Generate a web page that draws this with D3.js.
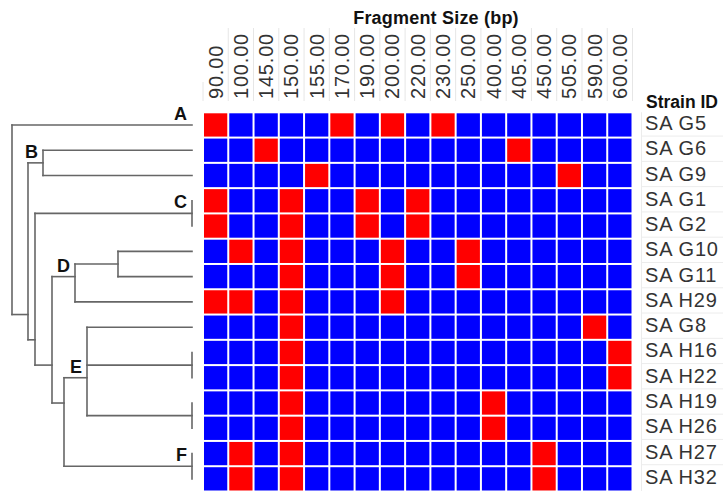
<!DOCTYPE html>
<html>
<head>
<meta charset="utf-8">
<script src="https://cdn.jsdelivr.net/npm/d3@7"></script>
<style>
  body { margin: 0; background: #fff; }
  svg { display: block; font-family: "Liberation Sans", Arial, sans-serif; }
</style>
</head>
<body>
<div id="chart"></div>
<script>
var WIDTH = 723, HEIGHT = 491;

// fragment sizes (columns)
var sizes = ["90.00", "100.00", "145.00", "150.00", "155.00", "170.00", "190.00", "200.00",
             "220.00", "230.00", "250.00", "400.00", "405.00", "450.00", "505.00", "590.00", "600.00"];

// strains (rows, in dendrogram order)
var strains = ["SA G5", "SA G6", "SA G9", "SA G1", "SA G2", "SA G10", "SA G11", "SA H29",
               "SA G8", "SA H16", "SA H22", "SA H19", "SA H26", "SA H27", "SA H32"];

// 1 = fragment present (red), 0 = absent (blue)
var presence = [
  [1,0,0,0,0,1,0,1,0,1,0,0,0,0,0,0,0],
  [0,0,1,0,0,0,0,0,0,0,0,0,1,0,0,0,0],
  [0,0,0,0,1,0,0,0,0,0,0,0,0,0,1,0,0],
  [1,0,0,1,0,0,1,0,1,0,0,0,0,0,0,0,0],
  [1,0,0,1,0,0,1,0,1,0,0,0,0,0,0,0,0],
  [0,1,0,1,0,0,0,1,0,0,1,0,0,0,0,0,0],
  [0,0,0,1,0,0,0,1,0,0,1,0,0,0,0,0,0],
  [1,1,0,1,0,0,0,1,0,0,0,0,0,0,0,0,0],
  [0,0,0,1,0,0,0,0,0,0,0,0,0,0,0,1,0],
  [0,0,0,1,0,0,0,0,0,0,0,0,0,0,0,0,1],
  [0,0,0,1,0,0,0,0,0,0,0,0,0,0,0,0,1],
  [0,0,0,1,0,0,0,0,0,0,0,1,0,0,0,0,0],
  [0,0,0,1,0,0,0,0,0,0,0,1,0,0,0,0,0],
  [0,1,0,1,0,0,0,0,0,0,0,0,0,1,0,0,0],
  [0,1,0,1,0,0,0,0,0,0,0,0,0,1,0,0,0]
];

// dendrogram: [node, parent, merge height]
var treeNodes = [
  ["root", "",     18.0],
  ["n1",   "root", 16.4],
  ["B",    "n1",   14.9],
  ["n2",   "n1",   15.7],
  ["C",    "n2",   0],
  ["n3",   "n2",   14.0],
  ["D",    "n3",   11.7],
  ["n5",   "D",    7.4],
  ["n4",   "n3",   12.8],
  ["E",    "n4",   10.5],
  ["p1",   "E",    0],
  ["p2",   "E",    0],
  ["F",    "n4",   0],
  ["SA G5",  "root", 0],
  ["SA G6",  "B",  0],
  ["SA G9",  "B",  0],
  ["SA G1",  "C",  0],
  ["SA G2",  "C",  0],
  ["SA G10", "n5", 0],
  ["SA G11", "n5", 0],
  ["SA H29", "D",  0],
  ["SA G8",  "E",  0],
  ["SA H16", "p1", 0],
  ["SA H22", "p1", 0],
  ["SA H19", "p2", 0],
  ["SA H26", "p2", 0],
  ["SA H27", "F",  0],
  ["SA H32", "F",  0]
];

// cluster letters and the node they sit on
var clusterLabels = [["A", "SA G5"], ["B", "B"], ["C", "C"], ["D", "D"], ["E", "E"], ["F", "F"]];

var svg = d3.select("#chart").append("svg")
  .attr("width", WIDTH).attr("height", HEIGHT);

var x = d3.scaleBand().domain(sizes).range([203, 632.5]);
var y = d3.scaleBand().domain(strains).range([112.3, 491.5]);
var hx = d3.scaleLinear().domain([0, 18]).range([192, 12]);

var gap = 2;

// faint table borders behind labels
svg.append("g").selectAll("line")
  .data(d3.range(sizes.length + 1))
  .enter().append("line")
  .attr("x1", function(i){ return 203 + i * x.step(); })
  .attr("x2", function(i){ return 203 + i * x.step(); })
  .attr("y1", function(i){ return i == 0 ? 82 : 28; })
  .attr("y2", 101)
  .attr("stroke", "#e6e6e6").attr("stroke-width", 1);

svg.append("line")
  .attr("x1", 641.5).attr("x2", 641.5)
  .attr("y1", y.range()[0]).attr("y2", HEIGHT)
  .attr("stroke", "#ececec");

svg.append("g").selectAll("line")
  .data(strains.slice(1))
  .enter().append("line")
  .attr("x1", 641.5).attr("x2", WIDTH)
  .attr("y1", function(d){ return y(d) - 1.5; })
  .attr("y2", function(d){ return y(d) - 1.5; })
  .attr("stroke", "#ececec");

// heatmap cells
var cells = [];
presence.forEach(function(row, r){
  row.forEach(function(v, c){
    cells.push({strain: strains[r], size: sizes[c], value: v});
  });
});

svg.append("g").selectAll("rect")
  .data(cells)
  .enter().append("rect")
  .attr("x", function(d){ return x(d.size) + gap / 2; })
  .attr("y", function(d){ return y(d.strain) + gap / 2; })
  .attr("width", x.step() - gap)
  .attr("height", y.step() - gap)
  .attr("fill", function(d){ return d.value ? "#ff0000" : "#0000ff"; });

// column labels
svg.append("g").selectAll("text")
  .data(sizes)
  .enter().append("text")
  .attr("transform", function(d){
    return "translate(" + (x(d) + x.bandwidth() / 2 + 7) + ",99) rotate(-90)";
  })
  .attr("font-size", 20)
  .attr("letter-spacing", 0.8)
  .attr("fill", "#333")
  .text(function(d){ return d; });

svg.append("text")
  .attr("x", 436).attr("y", 24)
  .attr("text-anchor", "middle")
  .attr("font-size", 18).attr("font-weight", "bold")
  .attr("letter-spacing", 0.2)
  .attr("fill", "#111")
  .text("Fragment Size (bp)");

// row labels
svg.append("text")
  .attr("x", 646).attr("y", 108)
  .attr("font-size", 17.5).attr("font-weight", "bold")
  .attr("fill", "#111")
  .text("Strain ID");

svg.append("g").selectAll("text")
  .data(strains)
  .enter().append("text")
  .attr("x", 645)
  .attr("y", function(d){ return y(d) + y.bandwidth() / 2 + 5; })
  .attr("font-size", 20)
  .attr("letter-spacing", 0.8)
  .attr("fill", "#333")
  .text(function(d){ return d; });

// dendrogram
var root = d3.stratify()
  .id(function(d){ return d[0]; })
  .parentId(function(d){ return d[1]; })(treeNodes);

root.each(function(n){
  n.px = hx(n.data[2]);
  n.py = d3.mean(n.leaves(), function(l){ return y(l.id) + y.bandwidth() / 2; });
});

var segs = [];
root.each(function(n){
  if(!n.children) return;
  var ys = n.children.map(function(c){ return c.py; });
  segs.push([n.px, d3.min(ys), n.px, d3.max(ys)]);
  n.children.forEach(function(c){
    if(c.px > n.px) segs.push([n.px, c.py, c.px, c.py]);
  });
});

svg.append("g").selectAll("line")
  .data(segs)
  .enter().append("line")
  .attr("x1", function(d){ return d[0]; })
  .attr("y1", function(d){ return d[1]; })
  .attr("x2", function(d){ return d[2]; })
  .attr("y2", function(d){ return d[3]; })
  .attr("stroke", "#666")
  .attr("stroke-width", 1.6)
  .attr("stroke-linecap", "square");

var byId = {};
root.each(function(n){ byId[n.id] = n; });

svg.append("g").selectAll("text")
  .data(clusterLabels)
  .enter().append("text")
  .attr("x", function(d){ return byId[d[1]].px - 5; })
  .attr("y", function(d){ return byId[d[1]].py - 5; })
  .attr("text-anchor", "end")
  .attr("font-size", 18).attr("font-weight", "bold")
  .attr("fill", "#111")
  .text(function(d){ return d[0]; });
</script>
</body>
</html>
